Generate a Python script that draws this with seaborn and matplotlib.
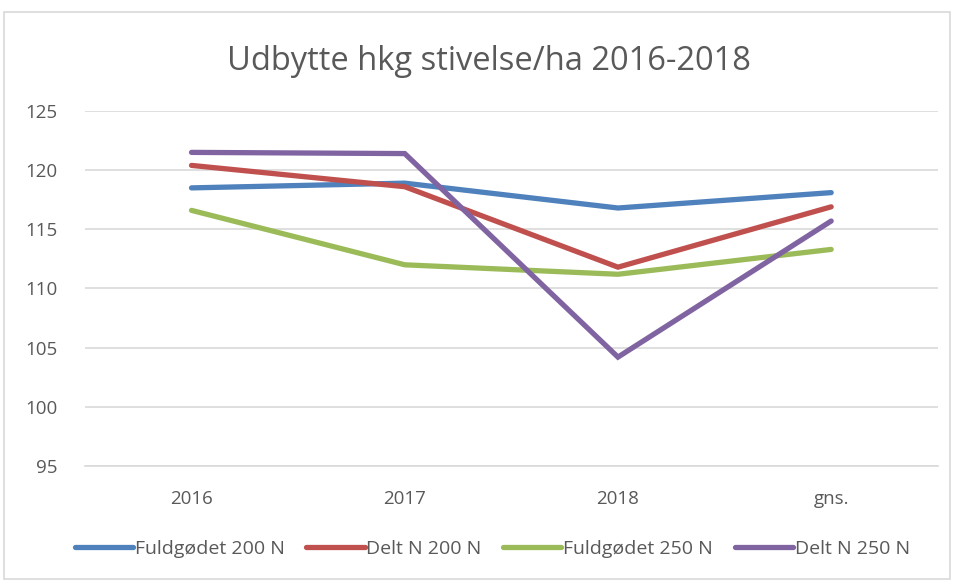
import pandas as pd
import matplotlib.pyplot as plt
import seaborn as sns
from matplotlib.patches import Rectangle

# ─── DATA ─────────────────────────────────────────────────────────────────────
categories = ['2016', '2017', '2018', 'gns.']
fuldgodet_200 = [118.5, 118.9, 116.8, 118.1]
delt_200 = [120.4, 118.6, 111.8, 116.9]
fuldgodet_250 = [116.6, 112.0, 111.2, 113.3]
delt_250 = [121.5, 121.4, 104.2, 115.7]

series_names = ['Fuldgødet 200 N', 'Delt N 200 N', 'Fuldgødet 250 N', 'Delt N 250 N']
series_values = [fuldgodet_200, delt_200, fuldgodet_250, delt_250]
colors = ['#4f81bd', '#c0504d', '#9bbb59', '#8064a2']

yticks = [95, 100, 105, 110, 115, 120, 125]
title = 'Udbytte hkg stivelse/ha 2016-2018'

rows = []
for name, vals in zip(series_names, series_values):
    for cat, v in zip(categories, vals):
        rows.append({'år': cat, 'udbytte': v, 'serie': name})
df = pd.DataFrame(rows)

# ─── PLOT ─────────────────────────────────────────────────────────────────────
sns.set_style('white')
plt.rcParams['font.family'] = ['Open Sans', 'DejaVu Sans']
text_color = '#595959'

fig = plt.figure(figsize=(9.54, 5.81), dpi=100)
ax = fig.add_axes([0.089, 0.198, 0.894, 0.611])

sns.lineplot(data=df, x='år', y='udbytte', hue='serie', hue_order=series_names,
             palette=colors, linewidth=3.8, sort=False, ax=ax,
             solid_capstyle='round', solid_joinstyle='miter')

ax.set_xlim(-0.5, len(categories) - 0.5)
ax.set_ylim(yticks[0], yticks[-1])
ax.set_yticks(yticks)
ax.yaxis.grid(True, color='#d9d9d9', linewidth=1.2)
ax.set_axisbelow(True)
for side in ['top', 'right', 'left']:
    ax.spines[side].set_visible(False)
ax.spines['bottom'].set_color('#d9d9d9')
ax.spines['bottom'].set_linewidth(1.2)
ax.tick_params(axis='both', length=0, labelsize=13.5, colors=text_color)
ax.tick_params(axis='y', pad=20)
ax.tick_params(axis='x', pad=17)
ax.set_xlabel('')
ax.set_ylabel('')

fig.text(0.513, 0.895, title, ha='center', va='center', fontsize=23.5,
         color=text_color)

handles, labels = ax.get_legend_handles_labels()
ax.get_legend().remove()
fig.legend(handles, labels, loc='center', bbox_to_anchor=(0.516, 0.055),
           ncol=4, frameon=False, fontsize=14, labelcolor=text_color,
           handlelength=3.0, handletextpad=0.1, columnspacing=1.1)

# chart border
fig.patches.append(Rectangle((0.004, 0.004), 0.992, 0.975, transform=fig.transFigure,
                             fill=False, edgecolor='#d9d9d9', linewidth=1.2))

fig.savefig('out.png', dpi=100)
